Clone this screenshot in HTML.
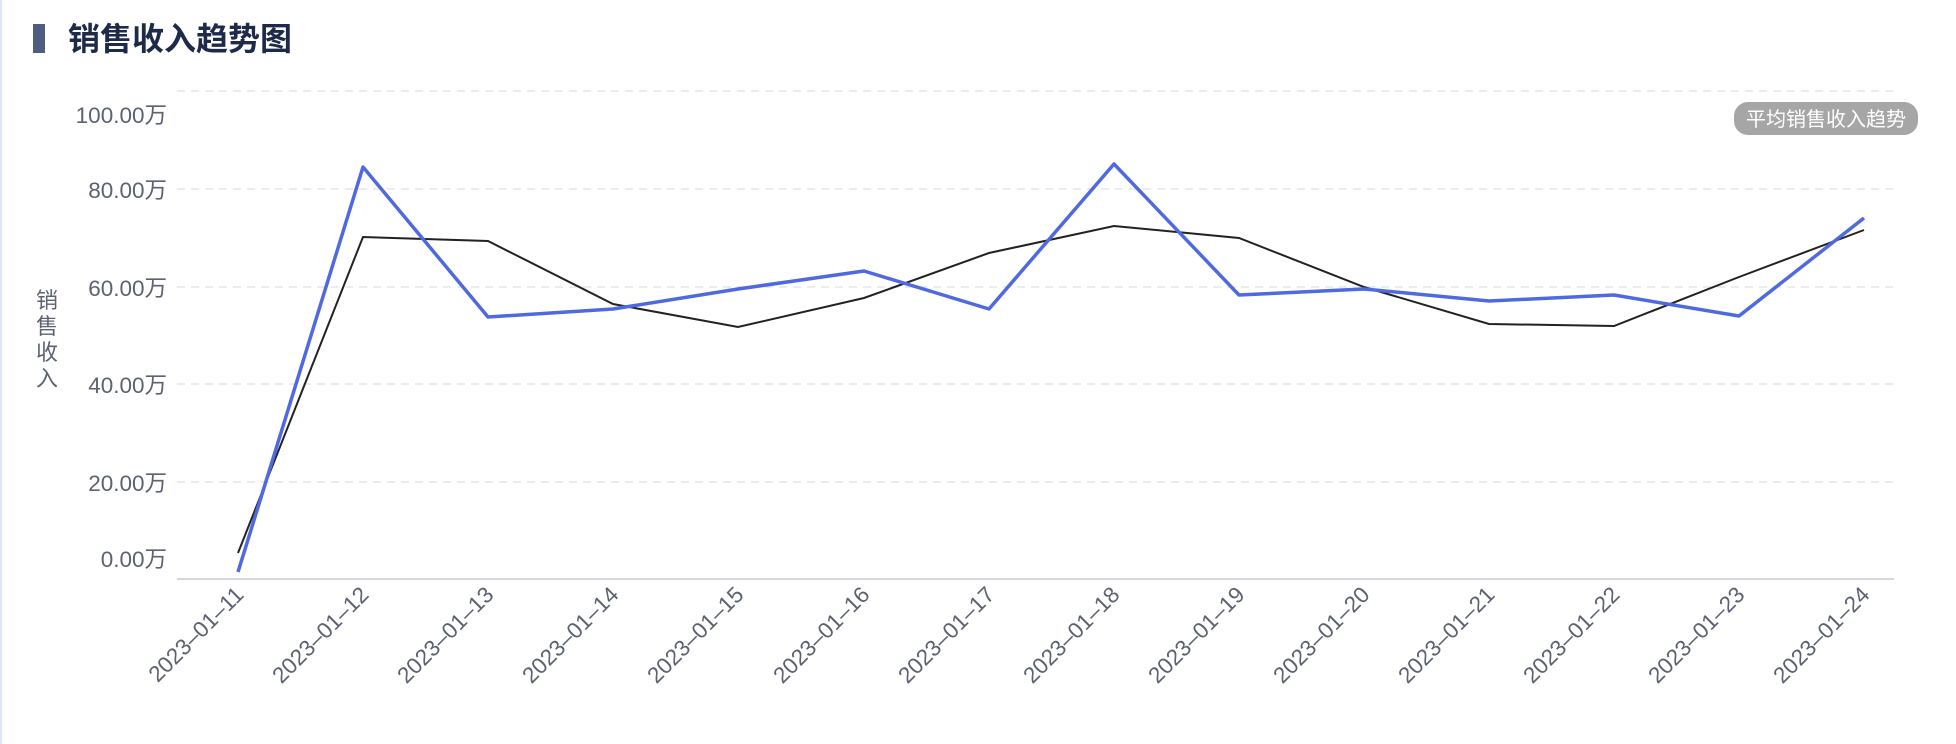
<!DOCTYPE html><html><head><meta charset="utf-8"><style>body{margin:0;background:#fff;font-family:"Liberation Sans","Noto Sans CJK SC",sans-serif}</style></head><body>
<svg width="1956" height="744" xmlns="http://www.w3.org/2000/svg" style="display:block;font-family:'Liberation Sans','Noto Sans CJK SC',sans-serif">
<rect x="0" y="0" width="2" height="744" fill="#dbe8fb"/>
<rect x="33" y="24" width="12" height="29" fill="#4f5d80"/>
<text x="68" y="50" font-size="32" font-weight="bold" fill="#1e2a4a">销售收入趋势图</text>
<g stroke="#e3e5e8" stroke-width="1.5" stroke-dasharray="8,6">
<line x1="177" y1="91" x2="1894" y2="91"/><line x1="177" y1="189" x2="1894" y2="189"/><line x1="177" y1="287" x2="1894" y2="287"/><line x1="177" y1="384" x2="1894" y2="384"/><line x1="177" y1="482" x2="1894" y2="482"/>
</g>
<line x1="177" y1="579" x2="1894" y2="579" stroke="#c8cacd" stroke-width="1.5"/>
<g font-size="22.5" fill="#5c6270" text-anchor="end">
<text x="167" y="123">100.00万</text><text x="167" y="198">80.00万</text><text x="167" y="296">60.00万</text><text x="167" y="393">40.00万</text><text x="167" y="491">20.00万</text><text x="167" y="567">0.00万</text>
</g>
<g font-size="22" fill="#5c6270" text-anchor="middle"><text x="47" y="308">销</text><text x="47" y="334">售</text><text x="47" y="360">收</text><text x="47" y="386">入</text></g>
<rect x="1734" y="102" width="184" height="33" rx="14" fill="#a6a6a6"/>
<text x="1826" y="126" font-size="20" fill="#fff" text-anchor="middle">平均销售收入趋势</text>
<polyline fill="none" stroke="#222" stroke-width="2" points="238,553 363,237 488,241 613,304 738,327 864,298 989,253 1114,226 1239,238 1364,287 1489,324 1614,326 1739,277 1864,230"/>
<polyline fill="none" stroke="#4f6ae0" stroke-width="3.5" stroke-linejoin="round" points="238,572 363,167 488,317 613,309 738,289 864,271 989,309 1114,164 1239,295 1364,289 1489,301 1614,295 1739,316 1864,218"/>
<g font-size="22.5" fill="#5c6270" text-anchor="end">
<text transform="translate(245,596) rotate(-45)">2023–01–11</text>
<text transform="translate(370,596) rotate(-45)">2023–01–12</text>
<text transform="translate(495,596) rotate(-45)">2023–01–13</text>
<text transform="translate(620,596) rotate(-45)">2023–01–14</text>
<text transform="translate(745,596) rotate(-45)">2023–01–15</text>
<text transform="translate(871,596) rotate(-45)">2023–01–16</text>
<text transform="translate(996,596) rotate(-45)">2023–01–17</text>
<text transform="translate(1121,596) rotate(-45)">2023–01–18</text>
<text transform="translate(1246,596) rotate(-45)">2023–01–19</text>
<text transform="translate(1371,596) rotate(-45)">2023–01–20</text>
<text transform="translate(1496,596) rotate(-45)">2023–01–21</text>
<text transform="translate(1621,596) rotate(-45)">2023–01–22</text>
<text transform="translate(1746,596) rotate(-45)">2023–01–23</text>
<text transform="translate(1871,596) rotate(-45)">2023–01–24</text>
</g>
</svg></body></html>
